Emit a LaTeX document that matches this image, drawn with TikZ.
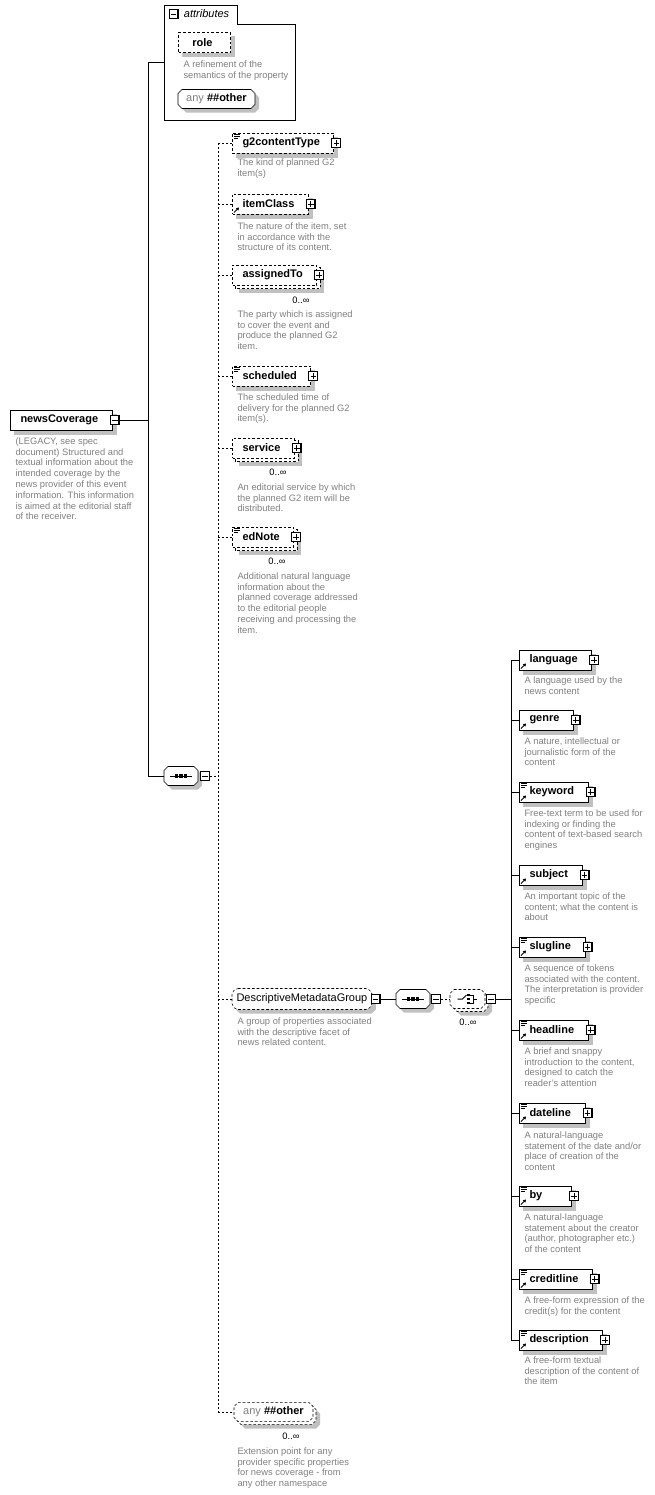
\documentclass[tikz,border=0pt]{standalone}
\usepackage{fontspec}
\setmainfont{Liberation Sans}
\usetikzlibrary{arrows.meta,backgrounds}

\definecolor{descgray}{RGB}{128,128,128}
\definecolor{shadowgray}{RGB}{192,192,192}
\newcommand{\namefont}{\fontsize{8.25}{10}\selectfont}
\newcommand{\descfont}{\fontsize{7}{8.1}\selectfont}
% octagon outline round a named node (corners cut by 4px)
\newcommand{\octpath}[1]{([shift={(4,0)}]#1.north west) -- ([shift={(-4,0)}]#1.north east) -- ([shift={(0,4)}]#1.north east)
  -- ([shift={(0,-4)}]#1.south east) -- ([shift={(-4,0)}]#1.south east) -- ([shift={(4,0)}]#1.south west)
  -- ([shift={(0,-4)}]#1.south west) -- ([shift={(0,4)}]#1.north west) -- cycle}

\begin{document}
\begin{tikzpicture}[x=0.75pt,y=-0.75pt,line width=0.75pt,font=\namefont,
  elem/.style={draw,fill=white,anchor=west,minimum height=15pt,minimum width=39pt,inner xsep=7.5pt,inner ysep=0pt,
              font=\namefont\bfseries,execute at end node={\hspace{3pt}}},
  optelem/.style={elem,dash pattern=on 2pt off 1.5pt},
  opt/.style={dash pattern=on 1.5pt off 1.5pt},
  optline/.style={dash pattern=on 2pt off 1.5pt},
  btn/.style={draw,fill=white,minimum size=6.75pt,inner sep=0pt},
  minus/.style={btn,path picture={
      \draw[line width=1.5pt] (path picture bounding box.north east) -- (path picture bounding box.south east) -- (path picture bounding box.south west);
      \draw ([xshift=1.2pt]path picture bounding box.west) -- ([xshift=-1.2pt]path picture bounding box.east);}},
  plus/.style={btn,path picture={
      \draw[line width=1.5pt] (path picture bounding box.north east) -- (path picture bounding box.south east) -- (path picture bounding box.south west);
      \draw ([xshift=1.2pt]path picture bounding box.west) -- ([xshift=-1.2pt]path picture bounding box.east)
            ([yshift=1.2pt]path picture bounding box.south) -- ([yshift=-1.2pt]path picture bounding box.north);}},
  octa/.style={anchor=west,inner ysep=0pt},
  seqbox/.style={octa,minimum width=24.75pt,minimum height=13.5pt,inner xsep=0pt,
    path picture={\draw ([xshift=4pt]path picture bounding box.west) -- ([xshift=-4pt]path picture bounding box.east);
      \foreach \d in {-4.5,0,4.5} \fill[black] ([shift={(\d,0)}]path picture bounding box.center) +(-1.6,-1.6) rectangle +(1.6,1.6);}},
  choicebox/.style={octa,minimum width=25.5pt,minimum height=13.5pt,inner xsep=0pt,
    path picture={\coordinate (c) at (path picture bounding box.center);
      \draw ([shift={(-10,0)}]c) -- ([shift={(-5,0)}]c) -- ([shift={(-1,-4)}]c);
      \foreach \d in {-4,0,4} \fill[black] ([shift={(1,\d)}]c) +(-1.4,-1.4) rectangle +(1.4,1.4);
      \draw ([shift={(2,-4)}]c) -| ([shift={(6,4)}]c) -- ([shift={(2,4)}]c) ([shift={(6,0)}]c) -- ([shift={(9,0)}]c);}},
  desc/.style={anchor=north west,inner sep=0pt,align=left,font=\descfont,text=descgray},
  occurs/.style={font=\descfont,inner sep=0pt}]

  \useasboundingbox (0,0) rectangle (654,1495);

  % attributes
  \coordinate (attrtl) at (164,5);
  \coordinate (attrtab) at (237,24);
  \coordinate (attrbr) at (295,120);
  \node[minus] (attrbtn) at (173.5,14.5) {};
  \node[anchor=west,font=\namefont\itshape] (attrlbl) at (179,14) {attributes};
  \node[optelem,minimum width=39pt] (role) at (178,43) {role};
  \node[desc] (roledesc) at (183,60) {A refinement of the\\semantics of the property};
  \node[octa,minimum width=57pt,minimum height=13.5pt] (anyattr) at (178,99) {{\color{descgray}any} \textbf{\#\#other}};

  % root
  \node[elem] (news) at (10,420) {newsCoverage};
  \node[minus] (newsbtn) at ([xshift=1.5pt]news.east) {};
  \node[desc] (newsdesc) at (15,437) {(LEGACY, see spec\\document) Structured and\\textual information about the\\intended coverage by the\\news provider of this event\\information. This information\\is aimed at the editorial staff\\of the receiver.};

  \node[seqbox] (seq1) at (164,776) {};
  \node[minus,anchor=west] (seq1btn) at ([xshift=1.5pt]seq1.east) {};

  % children of the sequence
  \node[optelem] (g2ct) at (232,143) {g2contentType};
  \node[plus] (g2ctbtn) at ([xshift=1.5pt]g2ct.east) {};
  \node[desc] (g2ctdesc) at (237,158) {The kind of planned G2\\item(s)};

  \node[optelem] (itemclass) at (232,204) {itemClass};
  \node[plus] (itemclassbtn) at ([xshift=1.5pt]itemclass.east) {};
  \node[desc] (itemclassdesc) at (237,222) {The nature of the item, set\\in accordance with the\\structure of its content.};

  \node[optelem] (assignedto) at (232,275) {assignedTo};
  \node[plus] (assignedtobtn) at ([xshift=1.5pt]assignedto.east) {};
  \node[occurs] (assignedtooc) at (301,300) {0..∞};
  \node[desc] (assignedtodesc) at (237,310) {The party which is assigned\\to cover the event and\\produce the planned G2\\item.};

  \node[optelem] (scheduled) at (232,376) {scheduled};
  \node[plus] (scheduledbtn) at ([xshift=1.5pt]scheduled.east) {};
  \node[desc] (scheduleddesc) at (237,393) {The scheduled time of\\delivery for the planned G2\\item(s).};

  \node[optelem] (service) at (232,448) {service};
  \node[plus] (servicebtn) at ([xshift=1.5pt]service.east) {};
  \node[occurs] (serviceoc) at (278,472) {0..∞};
  \node[desc] (servicedesc) at (237,483) {An editorial service by which\\the planned G2 item will be\\distributed.};

  \node[optelem] (ednote) at (232,537) {edNote};
  \node[plus] (ednotebtn) at ([xshift=1.5pt]ednote.east) {};
  \node[occurs] (ednoteoc) at (277,561) {0..∞};
  \node[desc] (ednotedesc) at (237,572) {Additional natural language\\information about the\\planned coverage addressed\\to the editorial people\\receiving and processing the\\item.};

  \node[octa,minimum height=15pt,inner xsep=3pt] (dmg) at (232,999) {DescriptiveMetadataGroup};
  \node[minus,anchor=west] (dmgbtn) at ([xshift=-1pt]dmg.east) {};
  \node[desc] (dmgdesc) at (237,1017) {A group of properties associated\\with the descriptive facet of\\news related content.};

  \node[octa,minimum width=58.5pt,minimum height=13.5pt] (anyother) at (234,1412) {{\color{descgray}any} \textbf{\#\#other}};
  \node[occurs] (anyotheroc) at (291,1436) {0..∞};
  \node[desc] (anyotherdesc) at (237,1447) {Extension point for any\\provider specific properties\\for news coverage - from\\any other namespace};

  % descriptive metadata group
  \node[seqbox] (seq2) at (396,999) {};
  \node[minus,anchor=west] (seq2btn) at ([xshift=0.75pt]seq2.east) {};
  \node[choicebox] (choice) at (450,999) {};
  \node[minus,anchor=west] (choicebtn) at ([xshift=0.75pt]choice.east) {};
  \node[occurs] (choiceoc) at (468,1022) {0..∞};

  \node[elem] (language) at (519,660) {language};
  \node[plus] (languagebtn) at ([xshift=1.5pt]language.east) {};
  \node[desc] (languagedesc) at (524,676) {A language used by the\\news content};

  \node[elem] (genre) at (519,720) {genre};
  \node[plus] (genrebtn) at ([xshift=1.5pt]genre.east) {};
  \node[desc] (genredesc) at (524,737) {A nature, intellectual or\\journalistic form of the\\content};

  \node[elem] (keyword) at (519,792) {keyword};
  \node[plus] (keywordbtn) at ([xshift=1.5pt]keyword.east) {};
  \node[desc] (keyworddesc) at (524,809) {Free-text term to be used for\\indexing or finding the\\content of text-based search\\engines};

  \node[elem] (subject) at (519,875) {subject};
  \node[plus] (subjectbtn) at ([xshift=1.5pt]subject.east) {};
  \node[desc] (subjectdesc) at (524,892) {An important topic of the\\content; what the content is\\about};

  \node[elem] (slugline) at (519,947) {slugline};
  \node[plus] (sluglinebtn) at ([xshift=1.5pt]slugline.east) {};
  \node[desc] (sluglinedesc) at (524,964) {A sequence of tokens\\associated with the content.\\The interpretation is provider\\specific};

  \node[elem] (headline) at (519,1030) {headline};
  \node[plus] (headlinebtn) at ([xshift=1.5pt]headline.east) {};
  \node[desc] (headlinedesc) at (524,1047) {A brief and snappy\\introduction to the content,\\designed to catch the\\reader's attention};

  \node[elem] (dateline) at (519,1113) {dateline};
  \node[plus] (datelinebtn) at ([xshift=1.5pt]dateline.east) {};
  \node[desc] (datelinedesc) at (524,1131) {A natural-language\\statement of the date and/or\\place of creation of the\\content};

  \node[elem,text width=24pt,align=left] (by) at (519,1196) {by};
  \node[plus] (bybtn) at ([xshift=1.5pt]by.east) {};
  \node[desc] (bydesc) at (524,1213) {A natural-language\\statement about the creator\\(author, photographer etc.)\\of the content};

  \node[elem] (creditline) at (519,1279) {creditline};
  \node[plus] (creditlinebtn) at ([xshift=1.5pt]creditline.east) {};
  \node[desc] (creditlinedesc) at (524,1296) {A free-form expression of the\\credit(s) for the content};

  \node[elem] (description) at (519,1340) {description};
  \node[plus] (descriptionbtn) at ([xshift=1.5pt]description.east) {};
  \node[desc] (descriptiondesc) at (524,1356) {A free-form textual\\description of the content of\\the item};

  % small icons
  \foreach \n in {g2ct,scheduled,ednote,keyword,slugline,headline,dateline,by,creditline,description}
    \draw[line width=0.5pt] ([shift={(2,2)}]\n.north west) -- ++(6,0) ([shift={(2,4)}]\n.north west) -- ++(6,0) ([shift={(2,6)}]\n.north west) -- ++(4,0);
  \foreach \n in {itemclass,language,genre,keyword,subject,slugline,headline,dateline,by,creditline,description}
    \draw[line width=0.6pt,-{Triangle[length=2pt,width=2.4pt]}] ([shift={(2,-2)}]\n.south west) -- ++(5,-5);

  % connectors
  \coordinate (trunk) at (148,0);
  \coordinate (attrjoin) at (164,63);
  \coordinate (rail) at (218,0);
  \coordinate (rail2) at (511,0);
  \draw (newsbtn.east) -- (newsbtn.east -| trunk);
  \draw (attrjoin) -- (attrjoin -| trunk) -- (trunk |- seq1.west) -- (seq1.west);
  \draw[opt] (seq1btn.east) -- (seq1btn.east -| rail);
  \draw[opt] (g2ct.west -| rail) -- (anyother.west -| rail);
  \foreach \n in {g2ct,itemclass,assignedto,scheduled,service,ednote,dmg,anyother}
    \draw[opt] (\n.west -| rail) -- (\n.west);
  \draw (dmgbtn.east) -- (seq2.west);
  \draw[opt] (seq2btn.east) -- (choice.west);
  \draw (choicebtn.east) -- (choicebtn.east -| rail2);
  \draw (language.west -| rail2) -- (description.west -| rail2);
  \foreach \n in {language,genre,keyword,subject,slugline,headline,dateline,by,creditline,description}
    \draw (\n.west -| rail2) -- (\n.west);

  % frame, shadows and octagons behind everything
  \begin{scope}[on background layer]
    \draw[fill=white] (attrtl) -| (attrtab) -| (attrbr) -| cycle;
    \foreach \n in {role,news,g2ct,itemclass,scheduled,language,genre,keyword,subject,slugline,headline,dateline,by,creditline,description}
      \fill[shadowgray] ([shift={(4,4)}]\n.north west) rectangle ([shift={(4,4)}]\n.south east);
    \foreach \n in {assignedto,service,ednote}
      \fill[shadowgray] ([shift={(7,7)}]\n.north west) rectangle ([shift={(7,7)}]\n.south east);
    \foreach \n in {anyattr,seq1,seq2,dmg}
      \fill[shadowgray,transform canvas={shift={(3pt,-3pt)}}] \octpath{\n};
    \foreach \n in {choice,anyother}
      \fill[shadowgray,transform canvas={shift={(5.25pt,-5.25pt)}}] \octpath{\n};
    \foreach \n in {assignedto,service,ednote}
      \draw[optline,fill=white] ([shift={(3,3)}]\n.north west) rectangle ([shift={(3,3)}]\n.south east);
    \foreach \n in {choice,anyother}
      \draw[optline,fill=white,transform canvas={shift={(2.25pt,-2.25pt)}}] \octpath{\n};
    \foreach \n in {anyattr,seq1,seq2}
      \draw[fill=white] \octpath{\n};
    \draw[optline,fill=white,rounded corners=1.5pt] \octpath{dmg};
    \foreach \n in {choice,anyother}
      \draw[optline,fill=white] \octpath{\n};
  \end{scope}
\end{tikzpicture}
\end{document}
